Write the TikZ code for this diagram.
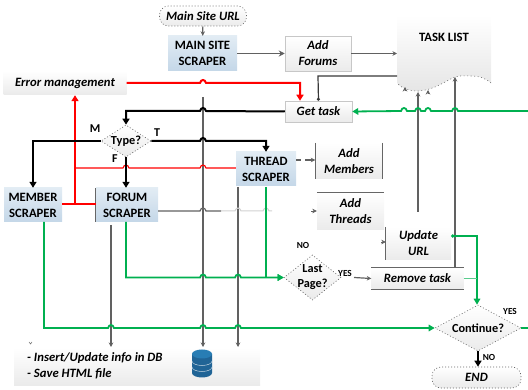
\documentclass[tikz,border=0pt]{standalone}
\usepackage{fontspec}
\setmainfont{Carlito}
\usetikzlibrary{shapes.geometric,arrows.meta,calc}
\definecolor{gr}{RGB}{0,176,80}
\definecolor{bluetop}{RGB}{226,236,244}
\definecolor{bluebot}{RGB}{196,215,232}
\definecolor{dbblue}{RGB}{32,100,150}
\definecolor{dbtop}{RGB}{40,125,180}
\tikzset{
 x=1pt,y=-1pt,
 every node/.style={font=\fontsize{12.7}{16}\selectfont,align=center,inner sep=0pt},
 scrap/.style={minimum width=#1,minimum height=34pt,top color=bluetop,bottom color=bluebot,font=\fontsize{12.7}{16}\selectfont\bfseries},
 scrap/.default=60pt,
 act/.style={top color=white,bottom color=black!8,font=\fontsize{12.7}{16}\selectfont\bfseries\itshape},
 edged/.style={draw=black!22,line width=.5pt},
 dia/.style={diamond,aspect=1.5,draw=black!60,line width=.6pt,dash pattern=on 1pt off 2pt,top color=white,bottom color=black!8},
 dtext/.style={font=\fontsize{12.3}{15}\selectfont\bfseries},
 term/.style={rounded corners=9pt,draw=black!60,line width=.6pt,dash pattern=on 1pt off 2pt,top color=white,bottom color=black!8,font=\fontsize{12.7}{16}\selectfont\bfseries\itshape},
 lab/.style={font=\fontsize{9.3}{10}\selectfont\bfseries},
 lett/.style={font=\fontsize{12}{14}\selectfont\bfseries},
 thk/.style={line width=2pt,-{Triangle[length=6pt,width=7pt]}},
 blk/.style={thk,black},
 red1/.style={thk,red},
 grn/.style={line width=1.8pt,gr,-{Triangle[length=6pt,width=6.5pt]}},
 gry/.style={line width=1.2pt,black!62,-{Stealth[length=4.5pt,width=4.5pt]}},
 gryp/.style={line width=1.2pt,black!62},
 accent/.style={black!60,line width=.9pt},
}
% small humps in a horizontal line at x: rightwards and leftwards
\newcommand{\hump}[1]{-- (#1-3,\yy) .. controls (#1-2,\yy-4) and (#1+2,\yy-4) .. (#1+3,\yy)}
\newcommand{\humpl}[1]{-- (#1+3,\yy) .. controls (#1+2,\yy-4) and (#1-2,\yy-4) .. (#1-3,\yy)}
\begin{document}
\begin{tikzpicture}
\useasboundingbox (0,0) rectangle (528,390);
\coordinate (g1top) at (203,97);
\coordinate (g1bot) at (203,347);
\coordinate (g2bot) at (238,347);
\coordinate (g3bot) at (111,347);
% nodes
\node[term,minimum width=87pt,minimum height=20pt] (url) at (203,16) {Main Site URL};
\node[scrap=69pt,minimum height=35pt] (main) at (202.5,53.5) {MAIN SITE\\SCRAPER};
\node[act,edged,minimum width=66pt,minimum height=35pt] (forums) at (318,53.5) {Add\\Forums};
\node[act,minimum width=123pt,minimum height=24pt] (err) at (65,83) {Error management};
\node[act,edged,minimum width=67pt,minimum height=21pt] (get) at (318.5,111.5) {Get task};
\node[dia,minimum width=50pt,minimum height=32pt,label={[dtext]center:Type?}] (type) at (126,141) {};
\node[scrap=60pt] (thread) at (266,169) {THREAD\\SCRAPER};
\node[act,minimum width=67pt,minimum height=36pt] (members) at (349,161) {Add\\Members};
\node[scrap=58pt] (member) at (33,205) {MEMBER\\SCRAPER};
\node[scrap=62pt] (forum) at (127,205) {FORUM\\SCRAPER};
\node[act,minimum width=67pt,minimum height=37pt] (threads) at (350.5,211.5) {Add\\Threads};
\node[act,minimum width=65pt,minimum height=33pt] (update) at (418.5,243.5) {Update\\URL};
\node[dia,minimum width=57pt,minimum height=45pt,label={[dtext]center:Last\\Page?}] (last) at (312.5,277.5) {};
\node[act,minimum width=92pt,minimum height=21pt] (remove) at (417.5,278.5) {Remove task};
\node[dia,minimum width=86pt,minimum height=46pt,label={[dtext]center:Continue?}] (cont) at (478,328) {};
\node[term,minimum width=89pt,minimum height=21pt] (endn) at (476.5,377.5) {END};
\node[act,minimum width=246pt,minimum height=37pt] (save) at (137,366.5) {};
\node[anchor=west,font=\fontsize{12.7}{15.5}\selectfont\bfseries\itshape,align=left] (savetxt) at (27,366) {- Insert/Update info in DB\\- Save HTML file};
% task list
\path[top color=white,bottom color=black!10] (397,15) -- (491,15) -- (491,83) .. controls (485,78) and (480,76) .. (470,76) .. controls (462,75.5) and (458,76) .. (455,77)
  .. controls (445,81) and (435,90) .. (418,91) .. controls (408,91) and (400,87) .. (397,83) -- cycle;
\draw[black!55,line width=.6pt,dash pattern=on 1pt off 2.5pt] (491,83) .. controls (485,78) and (480,76) .. (470,76) .. controls (462,75.5) and (458,76) .. (455,77)
  .. controls (445,81) and (435,90) .. (418,91) .. controls (408,91) and (400,87) .. (397,83);
\coordinate (tl) at (397,52);
\coordinate (tl2) at (397,76);
\node[font=\fontsize{12.7}{16}\selectfont\bfseries] (tasktxt) at (444,37) {TASK LIST};
% box edge accents
\draw[accent] (members.north west) -- (members.south west) (members.north east) -- (members.south east);
\draw[accent] (threads.north west) -- (threads.north east);
\draw[accent] (update.north west) -- (update.south west);
\draw[accent] (remove.north west) -- (remove.north east) (remove.south west) -- (remove.south east);
\draw[accent] (forum.north west) -- (forum.south west);
% database
\fill[dbblue] (192,354) -- (192,373) arc[start angle=180,end angle=360,x radius=10,y radius=-4.5] -- (212,354) -- cycle;
\fill[dbtop] (202,354) ellipse[x radius=10,y radius=4.5];
\draw[white!70!dbblue,line width=.5pt] (192,361) arc[start angle=180,end angle=360,x radius=10,y radius=-4.5];
\draw[white!70!dbblue,line width=.5pt] (192,367) arc[start angle=180,end angle=360,x radius=10,y radius=-4.5];
% gray connectors
\draw[gry] (url) -- (main);
\draw[gryp,-{Stealth[length=6pt,width=6pt]},line width=1.4pt] (main.east|-forums) -- (forums);
\draw[gry] (forums) -- (tl|-forums);
\draw[gry] (g1top) -- (g1bot);
\draw[gry] (238,187) -- (g2bot);
\draw[gry] (111,225) -- (g3bot);
\draw[black!78,line width=1.2pt,-{Circle[length=3pt]}] (tl2) -- (318,76) -- (get.north);
% thread to members: broken line
\coordinate (tm) at (301,160);
\coordinate (tm2) at (305,160);
\draw[gryp] (thread.east|-tm) -- (tm);
\draw[gry] (tm2) -- (members.west|-tm2);
% forum to threads: fading line and stub
\def\yy{211}
\draw[gryp] (forum.east|-0,211) \hump{203} -- (221,211);
\draw[black!18,line width=1pt] (221,211) \hump{238} \hump{266} -- (272,211);
\fill[black!60] (238,211) circle (1pt) (203,208.5) circle (1pt);
\draw[gry,line width=.6pt] (311,211) -- (threads.west|-0,211);
\draw[gry,line width=.6pt] (381,242) -- (update.west|-0,242);
\draw[gry] (418,212) -- (418,92);
\draw[gry] (455,268) -- (455,77);
\draw[gry,line width=.6pt] (405,91) -- (405,87);
\draw[gry,line width=.6pt] (428,94) -- (428,90);
\draw[gry] (354,277.5) -- (remove.west);
\draw[black!60,line width=.5pt] (29,342) -- (30.5,344) -- (32,342);
% red
\def\yy{83}
\draw[red1] (err.east) \hump{203} -- (300,83) -- (get.north-|300,0);
\draw[red1] (75,204) -- (err.south-|75,0);
\draw[red,line width=2pt] (member.east|-0,204) -- (forum.west|-0,204);
\def\yy{168}
\draw[red,line width=1.1pt] (75,168) \hump{126} \hump{203} -- (thread.west|-0,168);
% black
\def\yy{111}
\draw[blk] (get.west) \humpl{203} -- (126,111) -- (type.north);
\draw[blk] (type.west) -- (33,141) -- (member.north);
\def\yy{141}
\draw[blk] (type.east) \hump{203} -- (266,141) -- (thread.north);
\draw[blk] (type.south) -- (forum.north-|type.south);
\draw[blk] (cont.south) -- (endn.north-|cont.south);
% green
\def\yy{277.5}
\draw[grn] (126,222) -- (126,277.5) \hump{203} \hump{238} -- (last.west);
\draw[grn,line width=1.2pt] (266,187) -- (266,277.5) -- (last.west);
\def\yy{328}
\draw[grn] (44,222) -- (44,328) \hump{111} \hump{203} \hump{238} -- (cont.west);
\draw[grn,{Circle[length=3pt]}-{Triangle[length=6pt,width=6.5pt]}] (update.east|-0,236) -- (477,236) -- (cont.north-|477,0);
\draw[gr!65,line width=1.1pt] (remove.east) -- (477,278.5);
\coordinate (re) at (528,328);
\draw[gr,line width=1.8pt] (cont.east) -- (re);
\coordinate (rg) at (528,111);
\def\yy{111}
\draw[grn] (rg) \humpl{455} \humpl{428} \humpl{418} \humpl{404} -- (get.east);
% labels
\node[lett] (lm) at (95,129) {M};
\node[lett] (lt) at (157,133) {T};
\node[lett] (lf) at (115,159) {F};
\node[lab] (lno) at (303,245) {NO};
\node[lab] (lyes) at (345,273) {YES};
\node[lab] (lyes2) at (510,311) {YES};
\node[lab] (lno2) at (489,357) {NO};
\end{tikzpicture}
\end{document}
